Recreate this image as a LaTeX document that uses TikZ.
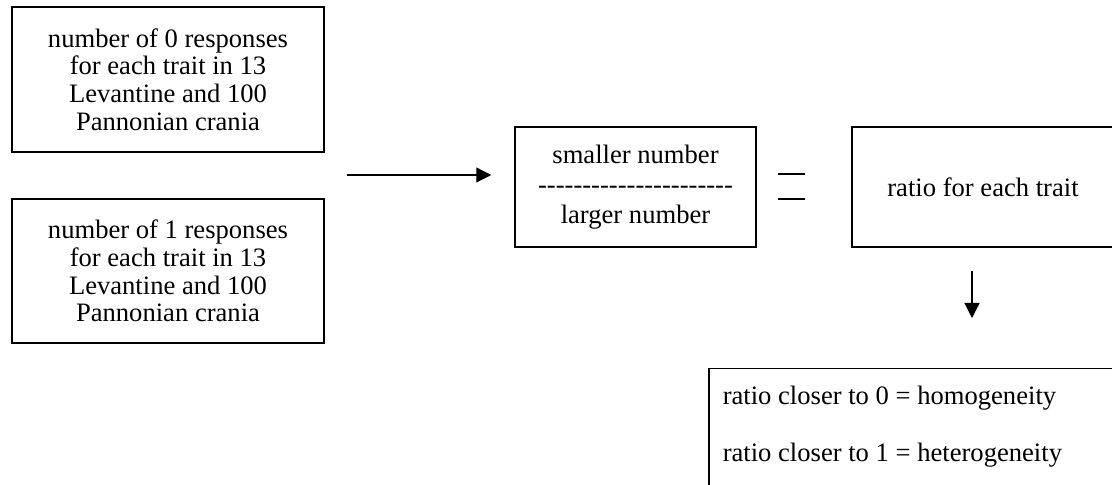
\documentclass[tikz,border=0pt]{standalone}
\usepackage{fontspec}
\setmainfont{Liberation Serif}
\usetikzlibrary{arrows.meta, positioning}
\tikzset{
  box/.style={rectangle, draw=black, line width=0.75pt, align=center,
              inner sep=0pt, font=\fontsize{13.3}{13.85}\selectfont},
  flow/.style={-{Triangle[length=7.5pt,width=7.5pt]}, line width=0.6pt},
}
\newcommand{\dashrow}{\foreach \k in {1,...,22}{-\kern0pt}}

\begin{document}
\begin{tikzpicture}[x=0.5pt,y=-0.5pt]
\useasboundingbox (0,0) rectangle (1112,485);
\clip (0,0) rectangle (1112,485);

% counts of the two responses
\node[box, minimum width=156pt, minimum height=72.5pt] (zeros) at (168,79.5)
  {number of 0 responses\\for each trait in 13\\Levantine and 100\\Pannonian crania};
\node[box, minimum width=156pt, minimum height=72pt] (ones) at (168,271)
  {number of 1 responses\\for each trait in 13\\Levantine and 100\\Pannonian crania};

% fraction and result
\node[box, minimum width=120.5pt, minimum height=60pt] (fraction) at (635.5,187)
  {smaller number\\[1pt]\dashrow\\[1pt]larger number};
\node[box, minimum width=131pt, minimum height=60pt] (ratio) at (983,187)
  {ratio for each trait};
\node[box, anchor=north west, align=flush left, text width=230pt, inner xsep=7pt,
      inner ysep=8.8pt, text depth=45pt] (verdict) at (708,368)
  {ratio closer to 0 = homogeneity\\[14.65pt]ratio closer to 1 = heterogeneity};

% connectors
\coordinate (arrowstart) at (347,175);
\draw[flow, shorten >=11.5pt] (arrowstart) -- (arrowstart -| fraction.west);
\coordinate (downstart) at (972,271);
\draw[flow, shorten >=25pt] (downstart) -- (downstart |- verdict.north);

% equals sign
\draw[line width=0.6pt] (778,174) -- (805,174) (778,199) -- (805,199);
\end{tikzpicture}
\end{document}
